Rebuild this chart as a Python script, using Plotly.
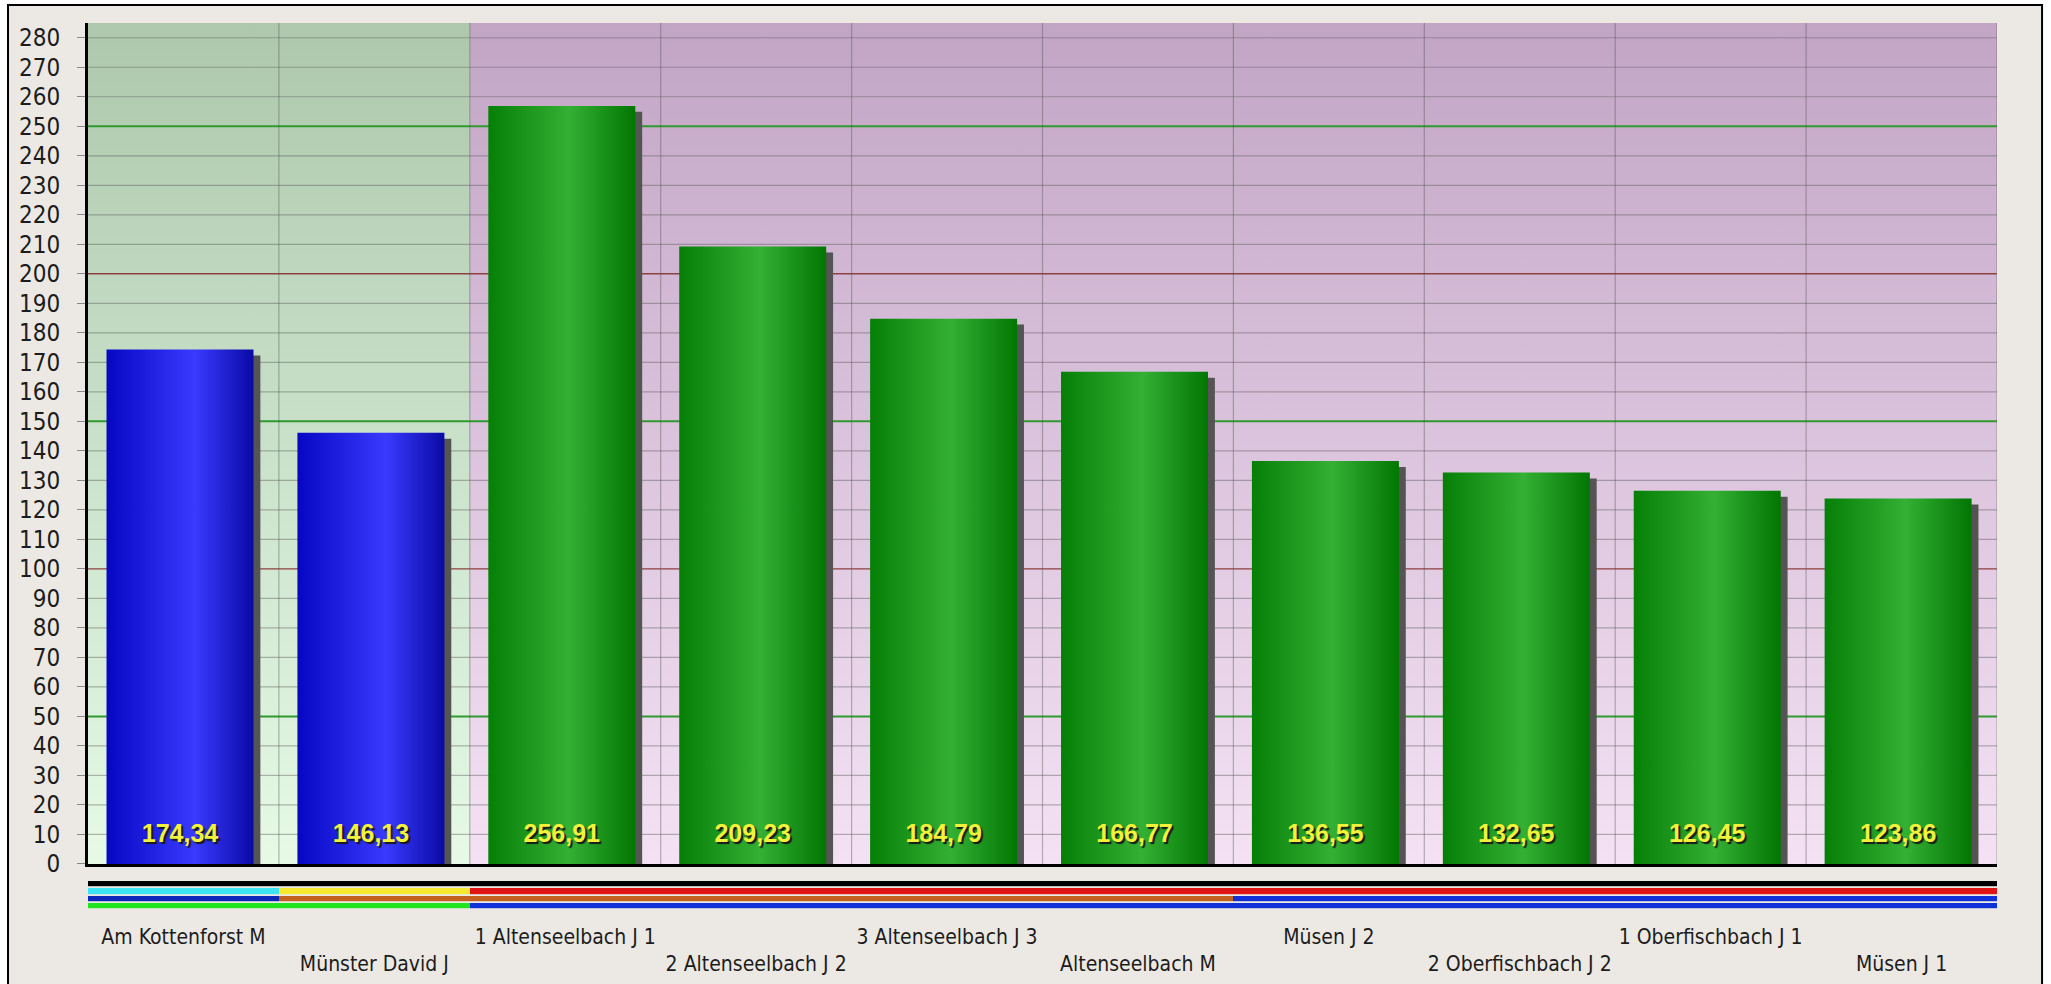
import plotly.graph_objects as go

# ---- data -----------------------------------------------------------------
categories = [
    "Am Kottenforst M", "Münster David J", "1 Altenseelbach J 1",
    "2 Altenseelbach J 2", "3 Altenseelbach J 3", "Altenseelbach M",
    "Müsen J 2", "2 Oberfischbach J 2", "1 Oberfischbach J 1", "Müsen J 1",
]
values = [174.34, 146.13, 256.91, 209.23, 184.79, 166.77, 136.55, 132.65, 126.45, 123.86]
groups = ["blue", "blue", "green", "green", "green", "green", "green", "green", "green", "green"]

# colour bands drawn under the axis, one entry per category (top row first)
band_top = ["black"] * 10
band_a = ["cyan", "yellow", "red", "red", "red", "red", "red", "red", "red", "red"]
band_b = ["navy", "brown", "brown", "brown", "brown", "brown", "blue", "blue", "blue", "blue"]
band_c = ["lime", "lime", "blue", "blue", "blue", "blue", "blue", "blue", "blue", "blue"]

y_ticks = list(range(0, 281, 10))
green_lines = [50, 150, 250]
red_lines = [100, 200]

# ---- styling ----------------------------------------------------------------
AXIS_FONT = "Liberation Sans Narrow, Arial Narrow, DejaVu Sans Condensed, Liberation Sans, sans-serif"
VALUE_FONT = "Liberation Sans, Arial, sans-serif"
BAR_W = 0.77
BAR_SHIFT = -0.018
SHADOW_DX = 0.036
SHADOW_DY = 2.0
Y_MAX = 285

bar_scales = {
    "blue": [[0, "#0606c4"], [0.6, "#3a3aff"], [1, "#0a0aa6"]],
    "green": [[0, "#067f06"], [0.55, "#34b034"], [1, "#027602"]],
}
zone_scales = {
    "blue": [[0, "#e6fae6"], [1, "#adc8ad"]],
    "green": [[0, "#f4e2f4"], [1, "#c2a5c5"]],
}
band_colors = {
    "black": "#000000", "cyan": "#3ce4f4", "yellow": "#f6ea30", "red": "#e01414",
    "navy": "#0c26b8", "brown": "#c2621e", "blue": "#1030d8", "lime": "#20e420",
}

fig = go.Figure()

# background zones: one shaded block per run of equally coloured bars
n = len(values)
start = 0
for i in range(1, n + 1):
    if i == n or groups[i] != groups[start]:
        x0, x1 = start - 0.5, i - 0.5
        fig.add_trace(go.Scatter(
            x=[x0, x1, x1, x0, x0], y=[0, 0, Y_MAX, Y_MAX, 0],
            mode="lines", line=dict(width=0), fill="toself",
            fillgradient=dict(type="vertical", colorscale=zone_scales[groups[start]]),
            hoverinfo="skip", showlegend=False,
        ))
        start = i

# grid lines
def hlines(levels):
    xs, ys = [], []
    for v in levels:
        xs += [-0.5, n - 0.5, None]
        ys += [v, v, None]
    return xs, ys

plain = [v for v in y_ticks if v > 0 and v not in green_lines and v not in red_lines]
for levels, color, width in [(plain, "rgba(80,80,80,0.4)", 1.2),
                             (red_lines, "#8e4040", 1.4),
                             (green_lines, "#2f9a2f", 2.0)]:
    xs, ys = hlines(levels)
    fig.add_trace(go.Scatter(x=xs, y=ys, mode="lines", line=dict(color=color, width=width),
                             hoverinfo="skip", showlegend=False))
vx, vy = [], []
for k in range(n):
    vx += [k + 0.5, k + 0.5, None]
    vy += [0, Y_MAX, None]
fig.add_trace(go.Scatter(x=vx, y=vy, mode="lines", line=dict(color="rgba(80,80,80,0.4)", width=1.2),
                         hoverinfo="skip", showlegend=False))

# drop shadows
for i, v in enumerate(values):
    c = i + BAR_SHIFT + SHADOW_DX
    a, b = c - BAR_W / 2, c + BAR_W / 2
    fig.add_trace(go.Scatter(
        x=[a, b, b, a, a], y=[0, 0, v - SHADOW_DY, v - SHADOW_DY, 0],
        mode="lines", line=dict(width=0), fill="toself", fillcolor="#545454",
        hoverinfo="skip", showlegend=False,
    ))

# bars with a cylindrical horizontal shading
for i, v in enumerate(values):
    c = i + BAR_SHIFT
    a, b = c - BAR_W / 2, c + BAR_W / 2
    fig.add_trace(go.Scatter(
        x=[a, b, b, a, a], y=[0, 0, v, v, 0],
        mode="lines", line=dict(width=0), fill="toself",
        fillgradient=dict(type="horizontal", colorscale=bar_scales[groups[i]]),
        name=categories[i], showlegend=False,
    ))

# value labels near the foot of each bar
fig.add_trace(go.Scatter(
    x=[i + BAR_SHIFT for i in range(n)], y=[9.5] * n, mode="text",
    text=[f"{v:.2f}".replace(".", ",") for v in values],
    textfont=dict(family=VALUE_FONT, size=25, color="#f2f23a", weight="bold",
                  shadow="2px 2px 1px #1a1a1a"),
    hoverinfo="skip", showlegend=False,
))

# colour bands below the axis
rows = [band_top, band_a, band_b, band_c]
keys = list(band_colors)
m = len(keys)
scale = []
for k, key in enumerate(keys):
    scale += [[k / m, band_colors[key]], [(k + 1) / m, band_colors[key]]]
fig.add_trace(go.Heatmap(
    z=[[keys.index(c) for c in row] for row in rows],
    x=list(range(n)), y=[0, 1, 2, 3],
    zmin=-0.5, zmax=m - 0.5, colorscale=scale, showscale=False,
    xgap=0, ygap=1.8, hoverinfo="skip",
    xaxis="x2", yaxis="y2",
))

ticktext = [c if i % 2 == 0 else "<br>" + c for i, c in enumerate(categories)]

fig.update_layout(
    width=2051, height=984,
    margin=dict(l=88, r=54, t=23, b=74, pad=0),
    paper_bgcolor="#ffffff",
    plot_bgcolor="rgba(0,0,0,0)",
    showlegend=False,
    xaxis=dict(domain=[0, 1], range=[-0.5, n - 0.5], anchor="y", automargin=False,
               showticklabels=False, showgrid=False, zeroline=False,
               showline=True, linecolor="#000000", linewidth=3, ticks=""),
    yaxis=dict(domain=[0.0519, 1], range=[0, Y_MAX], anchor="x", automargin=False,
               tickvals=y_ticks, ticktext=[str(t) for t in y_ticks],
               ticks="outside", ticklen=8, tickcolor="#8a8a8a", tickwidth=1,
               ticklabelstandoff=12,
               tickfont=dict(family=AXIS_FONT, size=24, color="#1c1c1c"),
               showgrid=False, zeroline=False,
               showline=True, linecolor="#000000", linewidth=3),
    xaxis2=dict(domain=[0, 1], range=[-0.5, n - 0.5], anchor="y2", matches="x",
                automargin=False, tickangle=0, ticklabelstandoff=12,
                tickvals=list(range(n)), ticktext=ticktext, ticks="",
                tickfont=dict(family=AXIS_FONT, size=21, color="#1c1c1c"),
                showgrid=False, zeroline=False, showline=False),
    yaxis2=dict(domain=[0, 0.0327], range=[3.5, -0.5], anchor="x2", visible=False),
    shapes=[dict(type="rect", xref="paper", yref="paper",
                 x0=-0.0419, x1=1.0236, y0=-0.095, y1=1.0203,
                 line=dict(color="#000000", width=2), fillcolor="#ece9e4", layer="below")],
)

fig.write_html("out.html")
